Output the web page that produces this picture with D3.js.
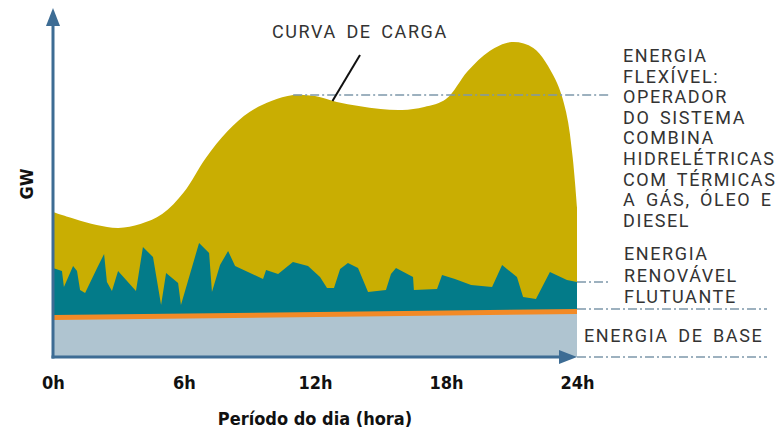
<!DOCTYPE html>
<html>
<head>
<meta charset="utf-8">
<script src="https://cdn.jsdelivr.net/npm/d3@7"></script>
<style>
  body { margin: 0; background: #fff; }
  svg { display: block; }
  .lbl { font-family: Roboto, sans-serif; font-size: 18px; fill: #333; letter-spacing: 1.6px; word-spacing: 3.5px; }
  .bold { font-family: "DejaVu Sans Condensed", sans-serif; font-weight: bold; fill: #111; }
</style>
</head>
<body>
<svg width="780" height="434"></svg>
<script>
// load curve (hour, GW - relative units)
var loadHours = [0, 1, 2, 3, 4, 5, 6, 7, 8, 9, 10, 11, 12, 13, 14, 15, 16, 17, 18, 19, 20, 21, 22, 23, 23.5, 23.8, 24];
var loadVals  = [145, 138, 132, 129, 133, 143, 165, 199, 226, 245, 256, 262, 261, 255, 251, 248, 247, 250, 258, 286, 306, 315, 309, 278, 245, 200, 150];

// renewable (fluctuating) top
var renHours = [0, 0.41, 0.5, 0.92, 1.1, 1.24, 1.47, 2.02, 2.34, 2.47, 2.7, 2.98, 3.8, 4.12, 4.58, 4.95, 5.18, 5.73, 5.86, 6.69, 7.15, 7.28, 7.65, 8.02, 8.34, 9.62, 9.76, 10.31, 10.99, 11.68, 12.23, 12.55, 12.87, 13.15, 13.51, 13.97, 14.43, 15.25, 15.48, 15.71, 16.49, 16.53, 17.59, 17.82, 18.41, 19.15, 20.11, 20.57, 21.25, 21.53, 22.12, 22.76, 23.54, 24];
var renVals  = [89, 86, 70, 91, 86, 67, 64, 89, 103, 75, 66, 86, 66, 110, 100, 52, 84, 74, 52, 114, 104, 65, 92, 106, 91, 78, 87, 83, 95, 91, 80, 69, 69, 88, 94, 89, 65, 67, 83, 89, 80, 67, 68, 82, 78, 72, 70, 92, 80, 60, 58, 85, 77, 75];

// base energy
var baseHours = [0, 24];
var baseVals  = [39.5, 45.5];

var tickHours = [0, 6, 12, 18, 24];

var flexLines = ["ENERGIA", "FLEXÍVEL:", "OPERADOR", "DO SISTEMA", "COMBINA", "HIDRELÉTRICAS", "COM TÉRMICAS", "A GÁS, ÓLEO E", "DIESEL"];
var renLines = ["ENERGIA", "RENOVÁVEL", "FLUTUANTE"];

var svg = d3.select("svg");

var x = d3.scaleLinear().domain([0, 24]).range([53, 577]);
var y = d3.scaleLinear().domain([0, 350]).range([357, 7]);

var load = loadHours.map(function(h, i) { return [h, loadVals[i]]; });
var ren = renHours.map(function(h, i) { return [h, renVals[i]]; });
var base = baseHours.map(function(h, i) { return [h, baseVals[i]]; });

svg.append("clipPath")
    .attr("id", "plot")
  .append("rect")
    .attr("x", x(0)).attr("y", 0)
    .attr("width", x(24) - x(0)).attr("height", y(0));

var area = d3.area()
    .x(function(d) { return x(d[0]); })
    .y0(y(0))
    .y1(function(d) { return y(d[1]); });

// flexible energy (up to load curve)
svg.append("path")
    .datum(load)
    .attr("clip-path", "url(#plot)")
    .attr("fill", "#c9ae02")
    .attr("d", area.curve(d3.curveCatmullRom.alpha(0.5)));

// renewable
svg.append("path")
    .datum(ren)
    .attr("fill", "#037b89")
    .attr("d", area.curve(d3.curveLinear));

// base
svg.append("path")
    .datum(base)
    .attr("fill", "#afc4d0")
    .attr("d", area);

svg.append("path")
    .datum(base)
    .attr("fill", "none")
    .attr("stroke", "#f28a26")
    .attr("stroke-width", 5)
    .attr("d", d3.line().x(function(d) { return x(d[0]); }).y(function(d) { return y(d[1]); }));

// dash-dot guides
var peakVal = d3.max(loadVals.slice(0, 14));
var guides = [
  [x(11), y(peakVal), 611],
  [x(24), y(renVals[renVals.length - 1]), 611],
  [x(24), y(baseVals[1] + 2.5), 767],
  [x(24), y(0), 767]
];
svg.selectAll(".guide")
  .data(guides)
  .enter().append("line")
    .attr("class", "guide")
    .attr("x1", function(d) { return d[0]; })
    .attr("x2", function(d) { return d[2]; })
    .attr("y1", function(d) { return d[1]; })
    .attr("y2", function(d) { return d[1]; })
    .attr("stroke", "#7d98aa")
    .attr("stroke-width", 1.5)
    .attr("stroke-dasharray", "9,3,2,3");

// axes
var axisColor = "#3d6c94";
svg.append("line")
    .attr("x1", x(0)).attr("x2", x(0))
    .attr("y1", y(0) + 1.5).attr("y2", 24)
    .attr("stroke", axisColor).attr("stroke-width", 3);
svg.append("path")
    .attr("d", "M" + x(0) + ",8L" + (x(0) + 7) + ",26L" + (x(0) - 7) + ",26Z")
    .attr("fill", axisColor);
svg.append("line")
    .attr("x1", x(0) - 1.5).attr("x2", x(24) - 16)
    .attr("y1", y(0)).attr("y2", y(0))
    .attr("stroke", axisColor).attr("stroke-width", 3);
svg.append("path")
    .attr("d", "M" + x(24) + "," + y(0) + "L" + (x(24) - 18) + "," + (y(0) - 7) + "L" + (x(24) - 18) + "," + (y(0) + 7) + "Z")
    .attr("fill", axisColor);

var xAxis = svg.append("g")
    .attr("transform", "translate(0," + y(0) + ")")
    .call(d3.axisBottom(x).tickValues(tickHours).tickSize(0).tickPadding(19)
      .tickFormat(function(d) { return d + "h"; }));
xAxis.select(".domain").remove();
xAxis.selectAll("text")
    .attr("class", "bold")
    .style("font-size", "18px");

svg.append("text")
    .attr("class", "bold")
    .attr("x", x(12))
    .attr("y", 425)
    .attr("text-anchor", "middle")
    .style("font-size", "18px")
    .text("Período do dia (hora)");

svg.append("text")
    .attr("class", "bold")
    .attr("transform", "translate(33,184) rotate(-90)")
    .attr("text-anchor", "middle")
    .style("font-size", "18px")
    .text("GW");

// load curve label
svg.append("text")
    .attr("class", "lbl")
    .attr("x", 272)
    .attr("y", 38)
    .text("CURVA DE CARGA");
svg.append("line")
    .attr("x1", 360).attr("y1", 55)
    .attr("x2", x(12.8)).attr("y2", y(256))
    .attr("stroke", "#111").attr("stroke-width", 2);

svg.selectAll(".flex")
  .data(flexLines)
  .enter().append("text")
    .attr("class", "lbl flex")
    .attr("x", 623)
    .attr("y", function(d, i) { return 62 + i * 20.6; })
    .text(function(d) { return d; });

svg.selectAll(".ren")
  .data(renLines)
  .enter().append("text")
    .attr("class", "lbl ren")
    .attr("x", 624)
    .attr("y", function(d, i) { return 260 + i * 21.5; })
    .text(function(d) { return d; });

svg.append("text")
    .attr("class", "lbl")
    .attr("x", 584)
    .attr("y", 342)
    .text("ENERGIA DE BASE");
</script>
</body>
</html>
